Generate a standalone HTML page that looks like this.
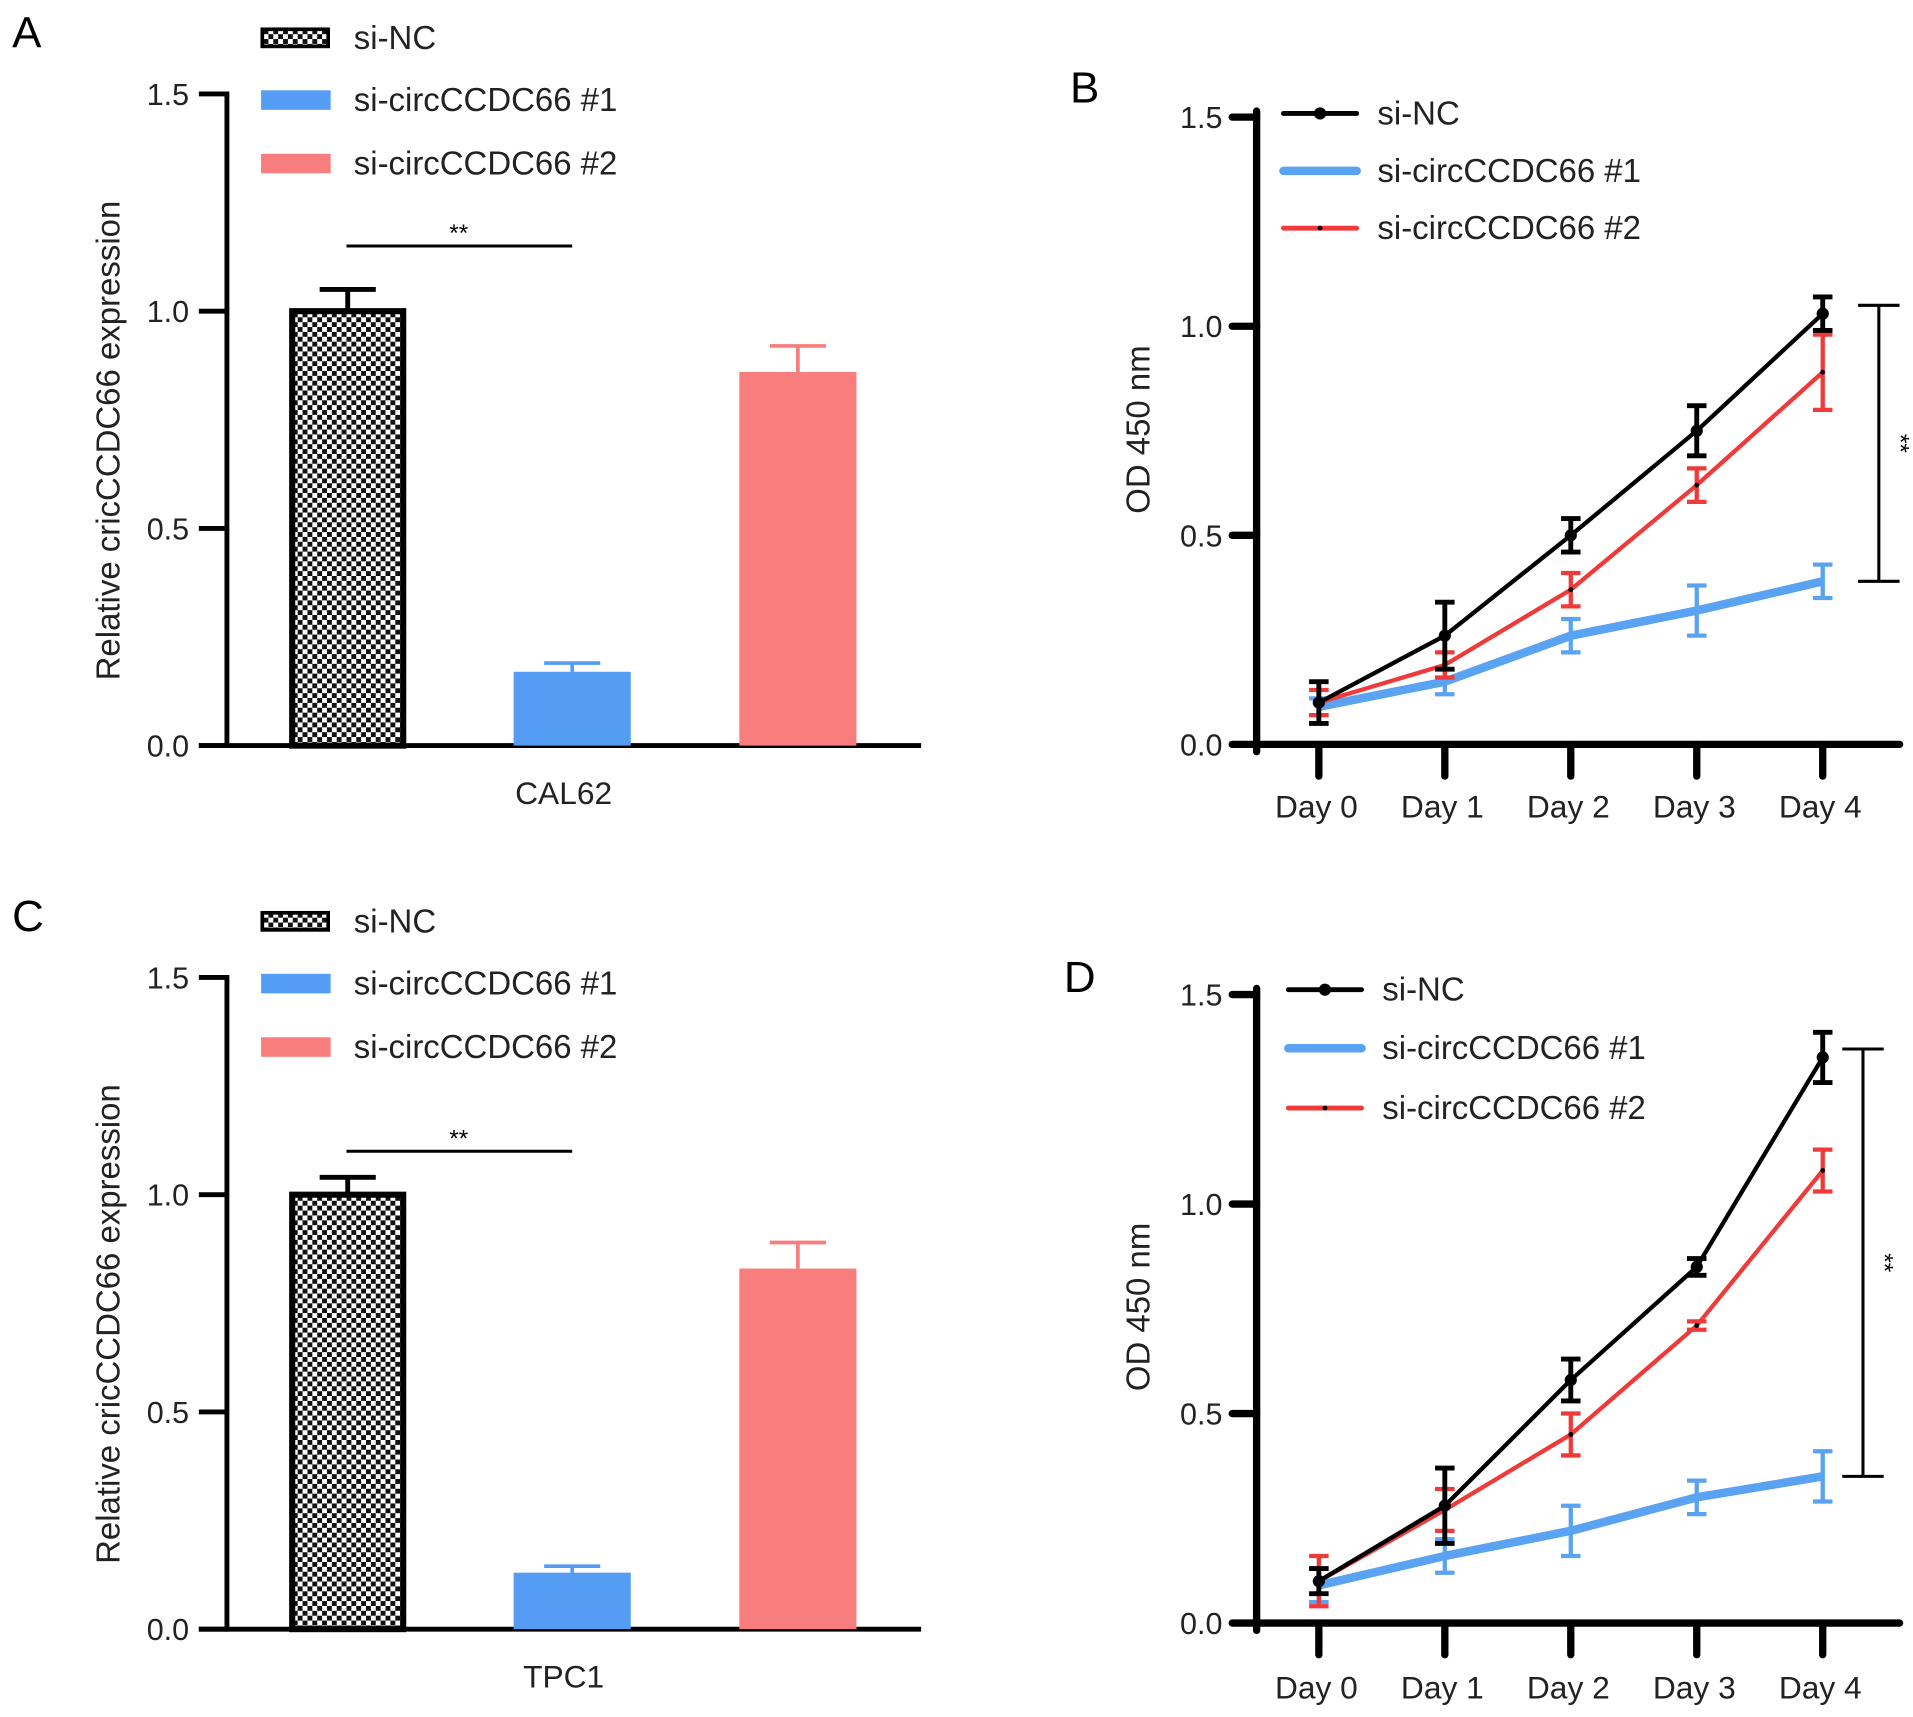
<!DOCTYPE html>
<html><head><meta charset="utf-8"><style>
html,body{margin:0;padding:0;background:#fff;}
svg{display:block;font-family:"Liberation Sans",Arial,sans-serif;}
</style></head><body>
<svg id="fig" width="1913" height="1717" viewBox="0 0 1568 1407" preserveAspectRatio="none" xmlns="http://www.w3.org/2000/svg">
<defs>
<pattern id="checks" width="8" height="8" patternUnits="userSpaceOnUse">
<rect width="8" height="8" fill="#fff"/><rect width="4" height="4" fill="#111"/><rect x="4" y="4" width="4" height="4" fill="#111"/>
</pattern>
</defs>
</svg>
<script>
const barGroups = ["si-NC", "si-circCCDC66 #1", "si-circCCDC66 #2"];
const barValuesA = [1.0, 0.17, 0.86];
const barErrA = [0.05, 0.02, 0.06];
const barValuesC = [1.0, 0.13, 0.83];
const barErrC = [0.04, 0.015, 0.06];
const sigLevelA = 1.15;
const sigLevelC = 1.1;
const yTicks = [0.0, 0.5, 1.0, 1.5];
const yTickLabels = ["0.0", "0.5", "1.0", "1.5"];
const days = ["Day 0", "Day 1", "Day 2", "Day 3", "Day 4"];
const bNC = [0.10, 0.26, 0.50, 0.75, 1.03];
const bNCerr = [0.05, 0.08, 0.04, 0.06, 0.04];
const b1 = [0.09, 0.15, 0.26, 0.32, 0.39];
const b1err = [0.02, 0.03, 0.04, 0.06, 0.04];
const b2 = [0.10, 0.19, 0.37, 0.62, 0.89];
const b2err = [0.03, 0.03, 0.04, 0.04, 0.09];
const dNC = [0.10, 0.28, 0.58, 0.85, 1.35];
const dNCerr = [0.03, 0.09, 0.05, 0.02, 0.06];
const d1 = [0.09, 0.16, 0.22, 0.30, 0.35];
const d1err = [0.04, 0.04, 0.06, 0.04, 0.06];
const d2 = [0.10, 0.27, 0.45, 0.71, 1.08];
const d2err = [0.06, 0.05, 0.05, 0.01, 0.05];

const svg = document.getElementById('fig');
const NS = 'http://www.w3.org/2000/svg';
function mk(tag, attrs, parent, text){
  const e = document.createElementNS(NS, tag);
  for (const k in attrs) e.setAttribute(k, attrs[k]);
  if (text !== undefined) e.textContent = text;
  (parent || svg).appendChild(e);
  return e;
}
const black = '#000', blue = '#559cf5', red = '#f87d7d', lred = '#f03a3a', lblue = '#5aa2f2';

function barPanel(letter, y0, vals, errs, xlabel, sigLevel){
  const g = mk('g', {});
  
  
  const yBase = y0 + 534, yTop = y0;
  const ys = v => yBase - v / 1.5 * (yBase - yTop);
  const pl = mk('text', {x: 10, y: y0 - 38, 'font-size': 36}, g, letter);
  
  
  mk('line', {x1: 186, y1: yTop - 2, x2: 186, y2: yBase + 2, stroke: black, 'stroke-width': 4}, g);
  mk('line', {x1: 163, y1: yBase, x2: 755, y2: yBase, stroke: black, 'stroke-width': 4}, g);
  yTicks.forEach((t, i) => {
    mk('line', {x1: 163, y1: ys(t), x2: 186, y2: ys(t), stroke: black, 'stroke-width': 4}, g);
    const tl = mk('text', {x: 155, y: ys(t) + 9, 'font-size': 25, 'text-anchor': 'end', fill: '#222'}, g, yTickLabels[i]);
    
    
  });
  const yt = mk('text', {x: 0, y: 0, 'font-size': 27, 'text-anchor': 'middle', fill: '#222', transform: `translate(98,${y0 + 284}) rotate(-90)`}, g, 'Relative cricCCDC66 expression');
  
  
  const xl = mk('text', {x: 462, y: yBase + 48, 'font-size': 26, 'text-anchor': 'middle', fill: '#222'}, g, xlabel);
  
  
  const xs = [237, 421, 606], w = 96;
  const fills = ['url(#checks)', blue, red];
  vals.forEach((v, i) => {
    const cx = xs[i] + w / 2;
    const col = i === 0 ? black : fills[i];
    mk('line', {x1: cx, y1: ys(v), x2: cx, y2: ys(v + errs[i]), stroke: col, 'stroke-width': i === 0 ? 4 : 3}, g);
    mk('line', {x1: cx - 23, y1: ys(v + errs[i]), x2: cx + 23, y2: ys(v + errs[i]), stroke: col, 'stroke-width': i === 0 ? 4 : 3}, g);
    const r = i === 0
      ? mk('rect', {x: xs[i] + 2.5, y: ys(v), width: w - 5, height: yBase - ys(v), fill: fills[i], stroke: black, 'stroke-width': 5}, g)
      : mk('rect', {x: xs[i], y: ys(v), width: w, height: yBase - ys(v), fill: fills[i]}, g);
    
    
  });
  const sy = ys(sigLevel);
  mk('line', {x1: 284, y1: sy, x2: 469, y2: sy, stroke: black, 'stroke-width': 2.5}, g);
  const st = mk('text', {x: 376, y: sy - 4, 'font-size': 20, 'text-anchor': 'middle'}, g, '**');
  
  
  const legY = [y0 - 46, y0 + 5, y0 + 57];
  barGroups.forEach((name, i) => {
    const lg = mk('g', {}, g);
    
    
    if (i === 0) mk('rect', {x: 215, y: legY[i] - 7, width: 54, height: 14, fill: 'url(#checks)', stroke: black, 'stroke-width': 3}, lg);
    else mk('rect', {x: 214, y: legY[i] - 8, width: 57, height: 16, fill: fills[i]}, lg);
    mk('text', {x: 290, y: legY[i] + 9, 'font-size': 27, fill: '#222'}, lg, name);
  });
}

function linePanel(letter, y0, series, errsArr, labelY, legYs, legX, bracket){
  const g = mk('g', {});
  
  
  const yBase = y0 + 514 + (letter === 'D' ? 1 : 0), yTop = y0;
  const ys = v => yBase - v / 1.5 * (yBase - yTop);
  const xs = i => 1081 + i * 103.25;
  const pl = mk('text', {x: letter === 'B' ? 877 : 872, y: y0 - 10 + (letter === 'B' ? -2 : 8), 'font-size': 36}, g, letter);
  
  
  mk('line', {x1: 1030, y1: yTop - 5, x2: 1030, y2: yBase + 6, stroke: black, 'stroke-width': 6, 'stroke-linecap': 'round'}, g);
  mk('line', {x1: 1030, y1: yBase, x2: 1557, y2: yBase, stroke: black, 'stroke-width': 6, 'stroke-linecap': 'round'}, g);
  yTicks.forEach((t, i) => {
    mk('line', {x1: 1010, y1: ys(t), x2: 1030, y2: ys(t), stroke: black, 'stroke-width': 6, 'stroke-linecap': 'round'}, g);
    const tl = mk('text', {x: 1002, y: ys(t) + 9, 'font-size': 25, 'text-anchor': 'end', fill: '#222'}, g, yTickLabels[i]);
    
    
  });
  days.forEach((d, i) => {
    mk('line', {x1: xs(i), y1: yBase, x2: xs(i), y2: yBase + 26, stroke: black, 'stroke-width': 6, 'stroke-linecap': 'round'}, g);
    const tl = mk('text', {x: xs(i) - 2, y: labelY, 'font-size': 26, 'text-anchor': 'middle', fill: '#222'}, g, d);
    
    
  });
  const yt = mk('text', {x: 0, y: 0, 'font-size': 27, 'text-anchor': 'middle', fill: '#222', transform: `translate(942,${y0 + 256}) rotate(-90)`}, g, 'OD 450 nm');
  
  
  const cols = [black, lblue, lred];
  const widths = [3.5, 7, 3.5];
  const names = ['si-nc', 'si-circccdc66-1', 'si-circccdc66-2'];
  [1, 2, 0].forEach(s => {
    const vals = series[s], errs = errsArr[s];
    vals.forEach((v, i) => {
      const c = cols[s];
      const lw = s === 0 ? 4 : 3.5;
      mk('line', {x1: xs(i), y1: ys(v - errs[i]), x2: xs(i), y2: ys(v + errs[i]), stroke: c, 'stroke-width': lw}, g);
      mk('line', {x1: xs(i) - 8, y1: ys(v - errs[i]), x2: xs(i) + 8, y2: ys(v - errs[i]), stroke: c, 'stroke-width': lw}, g);
      mk('line', {x1: xs(i) - 8, y1: ys(v + errs[i]), x2: xs(i) + 8, y2: ys(v + errs[i]), stroke: c, 'stroke-width': lw}, g);
    });
    const pts = vals.map((v, i) => xs(i) + ',' + ys(v)).join(' ');
    const pl2 = mk('polyline', {points: pts, fill: 'none', stroke: cols[s], 'stroke-width': widths[s], 'stroke-linejoin': 'round'}, g);
    
    
    vals.forEach((v, i) => {
      const p = mk('circle', {cx: xs(i), cy: ys(v), r: s === 0 ? 5 : (s === 2 ? 2 : 0), fill: black}, g);
      
      
    });
  });
  const bx = bracket;
  const top = ys(series[0][4] + 0.02), bot = ys(series[1][4]);
  mk('line', {x1: bx, y1: top, x2: bx, y2: bot, stroke: black, 'stroke-width': 2.5}, g);
  mk('line', {x1: bx - 17, y1: top, x2: bx + 17, y2: top, stroke: black, 'stroke-width': 2.5}, g);
  mk('line', {x1: bx - 17, y1: bot, x2: bx + 17, y2: bot, stroke: black, 'stroke-width': 2.5}, g);
  const st = mk('text', {x: 0, y: 0, 'font-size': 20, 'text-anchor': 'middle', transform: `translate(${bx + 11},${(top + bot) / 2}) rotate(90)`}, g, '**');
  
  
  ['si-NC', 'si-circCCDC66 #1', 'si-circCCDC66 #2'].forEach((n, i) => {
    const lg = mk('g', {}, g);
    
    
    mk('line', {x1: legX, y1: legYs[i], x2: legX + 60, y2: legYs[i], stroke: cols[i], 'stroke-width': i === 1 ? 7 : 4, 'stroke-linecap': 'round'}, lg);
    if (i !== 1) mk('circle', {cx: legX + 30, cy: legYs[i], r: i === 0 ? 5 : 2, fill: black}, lg);
    mk('text', {x: legX + 77, y: legYs[i] + 9, 'font-size': 27, fill: '#222'}, lg, n);
  });
}

barPanel('A', 77, barValuesA, barErrA, 'CAL62', sigLevelA);
barPanel('C', 801, barValuesC, barErrC, 'TPC1', sigLevelC);
linePanel('B', 96, [bNC, b1, b2], [bNCerr, b1err, b2err], 670, [93, 140, 187], 1052, 1540);
linePanel('D', 815, [dNC, d1, d2], [dNCerr, d1err, d2err], 1392, [811, 859, 908], 1056, 1527);
</script>
</body></html>
